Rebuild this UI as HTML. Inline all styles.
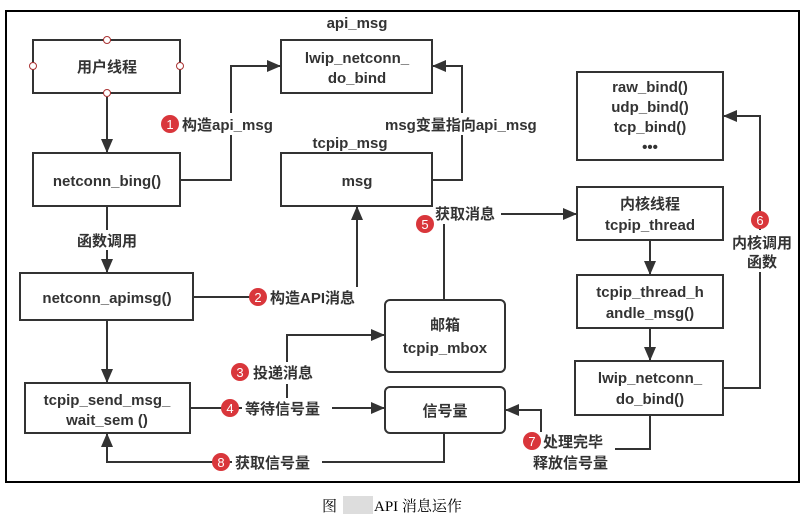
<!DOCTYPE html>
<html><head><meta charset="utf-8"><style>
html,body{margin:0;padding:0;background:#fff;}
svg text{font-family:"Liberation Sans","Noto Sans CJK SC",sans-serif;font-weight:bold;fill:#333;font-size:15px;}
</style></head><body>
<svg width="805" height="525" viewBox="0 0 805 525" xmlns="http://www.w3.org/2000/svg">
<defs>
<marker id="a" markerWidth="14" markerHeight="12" refX="13" refY="6" orient="auto" markerUnits="userSpaceOnUse">
<path d="M0,0 L14,6 L0,12 z" fill="#333"/></marker>
</defs>
<rect x="6" y="11" width="793" height="471" fill="#fff" stroke="#000" stroke-width="2"/>
<g fill="#fff" stroke="#333" stroke-width="2">
<rect x="33" y="40" width="147" height="53"/>
<rect x="281" y="40" width="151" height="53"/>
<rect x="33" y="153" width="147" height="53"/>
<rect x="281" y="153" width="151" height="53"/>
<rect x="20" y="273" width="173" height="47"/>
<rect x="25" y="383" width="165" height="50"/>
<rect x="385" y="300" width="120" height="72" rx="5"/>
<rect x="385" y="387" width="120" height="46" rx="5"/>
<rect x="577" y="72" width="146" height="88"/>
<rect x="577" y="187" width="146" height="53"/>
<rect x="577" y="275" width="146" height="53"/>
<rect x="575" y="361" width="148" height="54"/>
</g>
<g fill="#fff" stroke="#a33" stroke-width="1">
<circle cx="107" cy="40" r="3.5"/><circle cx="107" cy="93" r="3.5"/>
<circle cx="33" cy="66" r="3.5"/><circle cx="180" cy="66" r="3.5"/>
</g>
<g fill="none" stroke="#333" stroke-width="2">
<path d="M107 97 V152" marker-end="url(#a)"/>
<path d="M180 180 H231 V66 H280" marker-end="url(#a)"/>
<path d="M432 180 H462 V66 H433" marker-end="url(#a)"/>
<path d="M107 206 V272" marker-end="url(#a)"/>
<path d="M193 297 H357 V207" marker-end="url(#a)"/>
<path d="M107 320 V382" marker-end="url(#a)"/>
<path d="M190 408 H384" marker-end="url(#a)"/>
<path d="M287 408 V335 H384" marker-end="url(#a)"/>
<path d="M444 300 V214 H576" marker-end="url(#a)"/>
<path d="M650 240 V274" marker-end="url(#a)"/>
<path d="M650 328 V360" marker-end="url(#a)"/>
<path d="M723 388 H760 V116 H724" marker-end="url(#a)"/>
<path d="M650 415 V449 H615"/>
<path d="M541 432 V410 H506" marker-end="url(#a)"/>
<path d="M444 433 V462 H107 V434" marker-end="url(#a)"/>
</g>
<g fill="#fff">
<rect x="180" y="113" width="100" height="22"/>
<rect x="382" y="113" width="168" height="22"/>
<rect x="70" y="230" width="74" height="20"/>
<rect x="262" y="287" width="108" height="20"/>
<rect x="242" y="362" width="82" height="22"/>
<rect x="242" y="398" width="90" height="20"/>
<rect x="433" y="204" width="68" height="20"/>
<rect x="726" y="230" width="70" height="42"/>
<rect x="232" y="452" width="90" height="20"/>
</g>
<g>
<text x="357" y="28" text-anchor="middle">api_msg</text>
<text x="350" y="148" text-anchor="middle">tcpip_msg</text>
<text x="107" y="72" text-anchor="middle">用户线程</text>
<text x="357" y="63" text-anchor="middle">lwip_netconn_</text>
<text x="357" y="83" text-anchor="middle">do_bind</text>
<text x="107" y="186" text-anchor="middle">netconn_bing()</text>
<text x="357" y="186" text-anchor="middle">msg</text>
<text x="107" y="303" text-anchor="middle">netconn_apimsg()</text>
<text x="107" y="405" text-anchor="middle">tcpip_send_msg_</text>
<text x="107" y="425" text-anchor="middle">wait_sem  ()</text>
<text x="445" y="330" text-anchor="middle">邮箱</text>
<text x="445" y="353" text-anchor="middle">tcpip_mbox</text>
<text x="445" y="416" text-anchor="middle">信号量</text>
<text x="650" y="92" text-anchor="middle">raw_bind()</text>
<text x="650" y="112" text-anchor="middle">udp_bind()</text>
<text x="650" y="132" text-anchor="middle">tcp_bind()</text>
<text x="650" y="152" text-anchor="middle">•••</text>
<text x="650" y="209" text-anchor="middle">内核线程</text>
<text x="650" y="230" text-anchor="middle">tcpip_thread</text>
<text x="650" y="297" text-anchor="middle">tcpip_thread_h</text>
<text x="650" y="318" text-anchor="middle">andle_msg()</text>
<text x="650" y="383" text-anchor="middle">lwip_netconn_</text>
<text x="650" y="404" text-anchor="middle">do_bind()</text>
<text x="182" y="130">构造api_msg</text>
<text x="385" y="130">msg变量指向api_msg</text>
<text x="107" y="246" text-anchor="middle">函数调用</text>
<text x="270" y="303">构造API消息</text>
<text x="253" y="378">投递消息</text>
<text x="245" y="414">等待信号量</text>
<text x="435" y="219">获取消息</text>
<text x="762" y="248" text-anchor="middle">内核调用</text>
<text x="762" y="267" text-anchor="middle">函数</text>
<text x="543" y="447">处理完毕</text>
<text x="533" y="468">释放信号量</text>
<text x="235" y="468">获取信号量</text>
</g>
<g fill="#d9363b">
<circle cx="170" cy="124" r="9"/><circle cx="258" cy="297" r="9"/>
<circle cx="240" cy="372" r="9"/><circle cx="230" cy="408" r="9"/>
<circle cx="425" cy="224" r="9"/><circle cx="760" cy="220" r="9"/>
<circle cx="532" cy="441" r="9"/><circle cx="221" cy="462" r="9"/>
</g>
<g>
<text x="170" y="129" text-anchor="middle" style="fill:#fff;font-weight:normal;font-size:13px">1</text>
<text x="258" y="302" text-anchor="middle" style="fill:#fff;font-weight:normal;font-size:13px">2</text>
<text x="240" y="377" text-anchor="middle" style="fill:#fff;font-weight:normal;font-size:13px">3</text>
<text x="230" y="413" text-anchor="middle" style="fill:#fff;font-weight:normal;font-size:13px">4</text>
<text x="425" y="229" text-anchor="middle" style="fill:#fff;font-weight:normal;font-size:13px">5</text>
<text x="760" y="225" text-anchor="middle" style="fill:#fff;font-weight:normal;font-size:13px">6</text>
<text x="532" y="446" text-anchor="middle" style="fill:#fff;font-weight:normal;font-size:13px">7</text>
<text x="221" y="467" text-anchor="middle" style="fill:#fff;font-weight:normal;font-size:13px">8</text>
</g>
<rect x="343" y="496" width="30" height="18" fill="#ddd"/>
<text x="322" y="511" style="font-family:'Liberation Serif','Noto Serif CJK SC',serif;font-weight:normal;fill:#000;font-size:15px">图</text>
<text x="374" y="511" style="font-family:'Liberation Serif','Noto Serif CJK SC',serif;font-weight:normal;fill:#000;font-size:15px">API 消息运作</text>
</svg>
</body></html>
